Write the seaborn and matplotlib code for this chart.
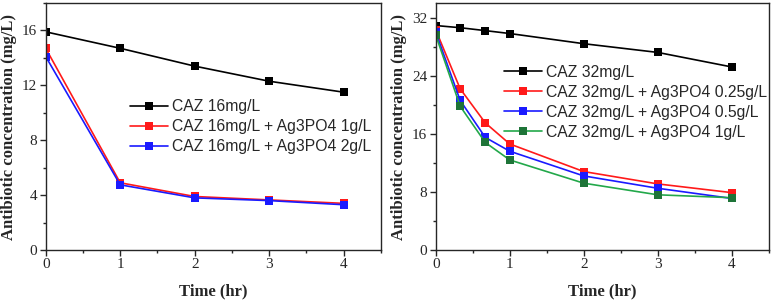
import numpy as np
import pandas as pd
import matplotlib
matplotlib.use("Agg")
import matplotlib.pyplot as plt
import seaborn as sns
from matplotlib.ticker import MultipleLocator

# left panel: CAZ 16 mg/L
time_a = [0, 1, 2, 3, 4]
caz16 = [15.9, 14.7, 13.4, 12.3, 11.5]
caz16_ag1 = [14.7, 4.9, 3.9, 3.65, 3.4]
caz16_ag2 = [14.1, 4.75, 3.8, 3.6, 3.3]
labels_a = ["CAZ 16mg/L", "CAZ 16mg/L + Ag3PO4 1g/L", "CAZ 16mg/L + Ag3PO4 2g/L"]

# right panel: CAZ 32 mg/L
time_b = [0, 0.33, 0.67, 1, 2, 3, 4]
caz32 = [30.9, 30.6, 30.2, 29.8, 28.4, 27.2, 25.2]
caz32_ag025 = [30.3, 22.2, 17.5, 14.6, 10.8, 9.1, 7.9]
caz32_ag05 = [30.0, 20.6, 15.5, 13.6, 10.2, 8.5, 7.1]
caz32_ag1 = [29.6, 19.8, 14.8, 12.4, 9.2, 7.6, 7.2]
labels_b = ["CAZ 32mg/L", "CAZ 32mg/L + Ag3PO4 0.25g/L",
            "CAZ 32mg/L + Ag3PO4 0.5g/L", "CAZ 32mg/L + Ag3PO4 1g/L"]

line_colors = ["#000000", "#ff1a1a", "#1a1aff", "#22a84a"]
marker_colors = ["#000000", "#ff1a1a", "#1a1aff", "#1e7438"]

df_a = pd.concat([pd.DataFrame({"time": time_a, "conc": v, "series": l})
                  for v, l in zip([caz16, caz16_ag1, caz16_ag2], labels_a)])
df_b = pd.concat([pd.DataFrame({"time": time_b, "conc": v, "series": l})
                  for v, l in zip([caz32, caz32_ag025, caz32_ag05, caz32_ag1], labels_b)])

sns.set_style("ticks")
plt.rcParams["font.family"] = ["Liberation Serif", "DejaVu Serif"]

fig = plt.figure(figsize=(7.72, 3.04), dpi=100)
ax1 = fig.add_axes([0.0592, 0.1776, 0.4343, 0.8125])
ax2 = fig.add_axes([0.5644, 0.1776, 0.4313, 0.8125])


def draw(ax, df, labels, ylim, ymajor, yminor, leg_anchor):
    n = len(labels)
    sns.lineplot(data=df, x="time", y="conc", hue="series", hue_order=labels,
                 palette=line_colors[:n], style="series", style_order=labels,
                 markers=["s"] * n, dashes=False, markersize=5.5, linewidth=1.2,
                 markeredgewidth=0, ax=ax, legend=True)
    for line, mc in zip(ax.get_lines(), marker_colors[:n]):
        line.set_markerfacecolor(mc)
        line.set_markeredgecolor(mc)
    handles, _ = ax.get_legend_handles_labels()
    for h, mc in zip(handles, marker_colors[:n]):
        h.set_markerfacecolor(mc)
        h.set_markeredgecolor(mc)
    ax.legend(handles[:n], labels, loc="upper left", bbox_to_anchor=leg_anchor,
              frameon=False, prop={"family": "Liberation Sans", "size": 11.3},
              handlelength=2.45, handletextpad=0.25, labelspacing=0.32,
              borderpad=0, borderaxespad=0)
    ax.set_xlim(0, 4.5)
    ax.set_ylim(*ylim)
    ax.xaxis.set_major_locator(MultipleLocator(1))
    ax.xaxis.set_minor_locator(MultipleLocator(0.5))
    ax.yaxis.set_major_locator(MultipleLocator(ymajor))
    ax.yaxis.set_minor_locator(MultipleLocator(yminor))
    ax.tick_params(which="major", direction="out", length=4, width=1,
                   labelsize=11, top=False, right=False, pad=2)
    ax.tick_params(which="minor", direction="out", length=2.5, width=1,
                   top=False, right=False)
    for sp in ax.spines.values():
        sp.set_linewidth(1.0)
        sp.set_visible(True)
    ax.set_xlabel("Time (hr)", fontsize=12, fontweight="bold", labelpad=9)
    ax.set_ylabel("Antibiotic concentration (mg/L)", fontsize=12,
                  fontweight="bold", labelpad=4)


draw(ax1, df_a, labels_a, (0, 18), 4, 2, (0.25, 0.61))
draw(ax2, df_b, labels_b, (0, 34), 8, 4, (0.205, 0.75))

fig.savefig("out.png", dpi=100)
